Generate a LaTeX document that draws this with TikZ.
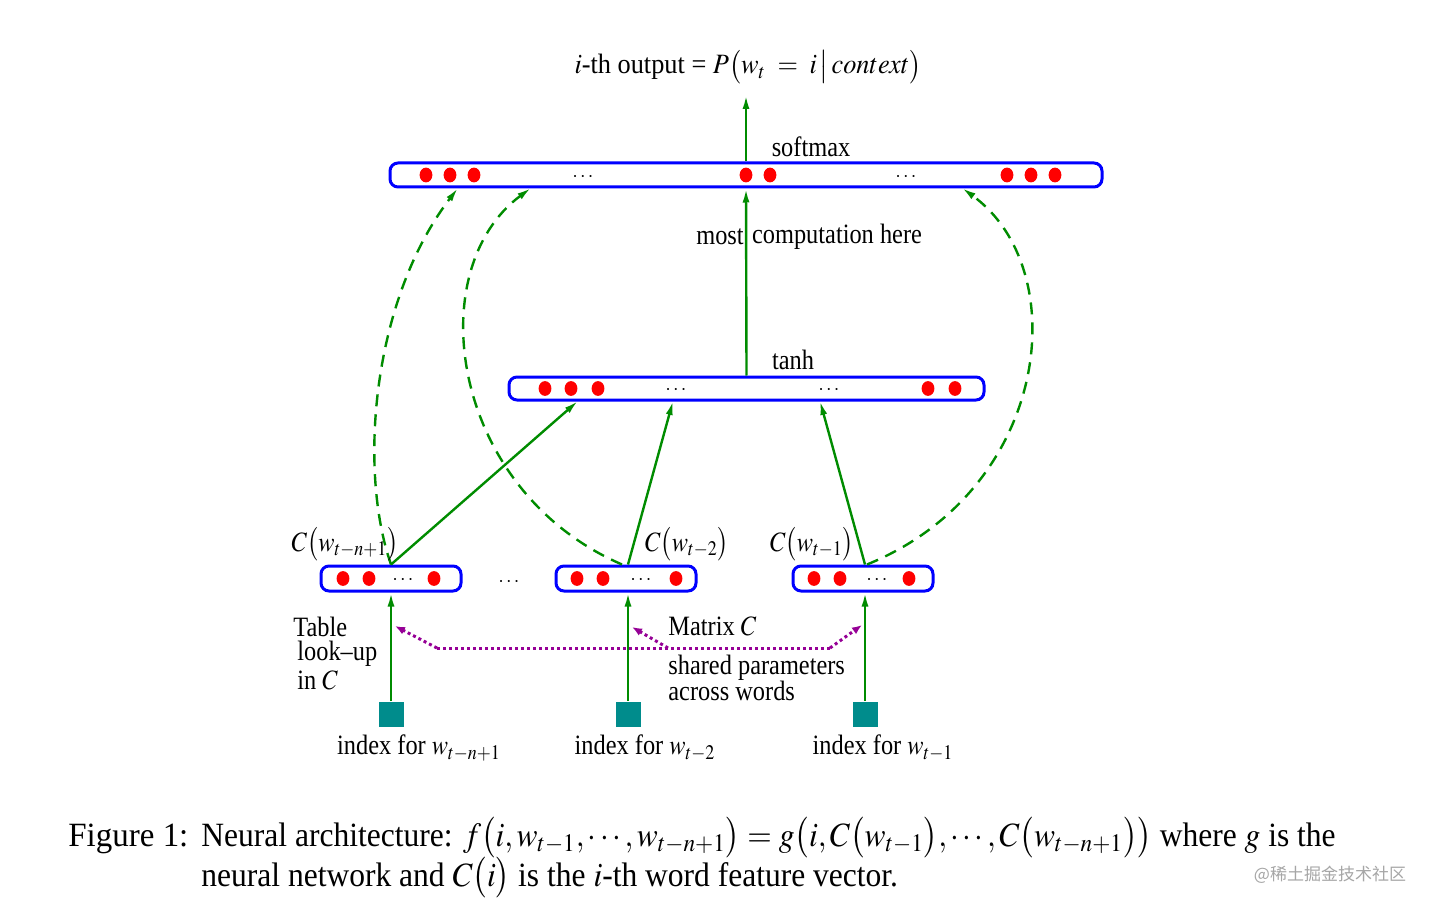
\documentclass[tikz,border=0pt]{standalone}
\usepackage{mathptmx}
\usepackage{fontspec}
\setmainfont{Liberation Serif}
\newfontfamily\cjkfont{Noto Sans CJK SC}
\usetikzlibrary{arrows.meta,calc}
\definecolor{dgreen}{RGB}{0,140,0}
\definecolor{sqteal}{RGB}{0,140,140}
\definecolor{dpurple}{RGB}{150,0,150}
\newcommand{\nx}[1]{\scalebox{0.87}[1]{#1}}
\newcommand{\cx}[1]{\scalebox{0.927}[1]{#1}}
\tikzset{
  bar/.style={draw=blue, line width=1.5pt, rounded corners=4pt, inner sep=0pt, fill=white},
  garrow/.style={draw=dgreen, line width=1.2pt, -{Latex[length=7pt,width=3.5pt]}},
  gdash/.style={garrow, dash pattern=on 6pt off 4pt},
  parrow/.style={draw=dpurple, line width=1.5pt, dash pattern=on 1.5pt off 1.5pt, -{Latex[length=5pt,width=4pt]}},
  pline/.style={draw=dpurple, line width=1.5pt, dash pattern=on 1.5pt off 1.5pt},
  lbl/.style={font=\fontsize{14}{16}\selectfont, inner sep=0pt},
  llbl/.style={lbl, anchor=west},
  dots/.style={font=\fontsize{10}{12}\selectfont, inner sep=0pt},
  sqbox/.style={fill=sqteal, minimum size=12.5pt, inner sep=0pt},
  captxt/.style={font=\fontsize{17}{20}\selectfont, inner sep=0pt, anchor=base west},
}
\newcommand{\rdot}[2]{\fill[red] (#1,#2) ellipse [x radius=3.2pt, y radius=3.7pt];}
\begin{document}
\begin{tikzpicture}[x=0.5pt,y=-0.5pt]
\useasboundingbox (0,0) rectangle (1434,909);
\fill[white] (0,0) rectangle (1434,909);

% bars
\node[bar, minimum width=356pt, minimum height=12pt] (soft) at (746,175) {};
\node[bar, minimum width=237.5pt, minimum height=11.5pt] (tanh) at (746.5,388.5) {};
\node[bar, minimum width=70pt, minimum height=12.5pt] (b1) at (391,578.5) {};
\node[bar, minimum width=70pt, minimum height=12.5pt] (b2) at (626,578.5) {};
\node[bar, minimum width=70pt, minimum height=12.5pt] (b3) at (863,578.5) {};

% dots
\foreach \x in {426,450,474,746,770,1007,1031,1055} {\rdot{\x}{175}}
\foreach \x in {545,571,598,928,955} {\rdot{\x}{388.5}}
\foreach \x in {343,369,434,577,603,676,814,840,909} {\rdot{\x}{578.5}}
\node[dots] (sd1) at (583,177) {$\cdots$};
\node[dots] (sd2) at (906,177) {$\cdots$};
\node[dots] (td1) at (676,390.5) {$\cdots$};
\node[dots] (td2) at (829,390.5) {$\cdots$};
\node[dots] (bd1) at (403,580.5) {$\cdots$};
\node[dots] (bd2) at (641,580.5) {$\cdots$};
\node[dots] (bd3) at (877,580.5) {$\cdots$};
\node[dots] (mid) at (509,582) {$\cdots$};

% squares
\node[sqbox] (s1) at (391,714) {};
\node[sqbox] (s2) at (628,714) {};
\node[sqbox] (s3) at (865,714) {};

% coordinates
\coordinate (out) at (746,95);
\coordinate (t1) at (578,401);
\coordinate (t2) at (673,401);
\coordinate (t3) at (820,401);
\coordinate (a1) at (458,188);
\coordinate (a2) at (531,188);
\coordinate (a3) at (962,188);
\coordinate (p1) at (437,648);
\coordinate (p2) at (668,648);
\coordinate (p3) at (830,648);
\coordinate (q1) at (395,626);
\coordinate (q2) at (632,627);
\coordinate (q3) at (862,625);

% arrows
\draw[garrow] (soft.north) -- (out);
\draw[garrow] (tanh.north) -- (soft.south);
\draw[garrow] (b1.north) -- (t1);
\draw[garrow] (s2 |- b2.north) -- (t2);
\draw[garrow] (s3 |- b3.north) -- (t3);
\draw[garrow] (s1.north) -- (b1.south);
\draw[garrow] (s2.north) -- (s2 |- b2.south);
\draw[garrow] (s3.north) -- (s3 |- b3.south);

\draw[gdash] (b1.north) .. controls (358,470) and (372,300) .. (a1);
\draw[gdash] ([xshift=-2pt]b2.north) .. controls (450,490) and (420,270) .. (a2);
\draw[gdash] ([xshift=2pt]b3.north) .. controls (1050,490) and (1075,270) .. (a3);

\draw[pline] (p1) -- (p3);
\draw[parrow] (p1) -- (q1);
\draw[parrow] (p2) -- (q2);
\draw[parrow] (p3) -- (q3);

% labels
\node[lbl] (toplbl) at (748,67) {\scalebox{0.94}[1]{$i$-th output = $P\bigl(w_t\;=\;i\,\big|\,context\bigr)$}};
\node[lbl] (lsoft) at (811,147) {\nx{softmax}};
\node[lbl] (lmost) at (720,237) {\nx{most}};
\node[lbl] (lcomp) at (837,237) {\nx{computation here}};
\node[lbl] (ltanh) at (793,360) {\nx{tanh}};
\node[lbl] (c1) at (345,544) {\nx{$C\bigl(w_{t-n+1}\bigr)$}};
\node[lbl] (c2) at (687,544) {\nx{$C\bigl(w_{t-2}\bigr)$}};
\node[lbl] (c3) at (812,544) {\nx{$C\bigl(w_{t-1}\bigr)$}};
\node[llbl] (tab1) at (293,627) {\nx{Table}};
\node[llbl] (tab2) at (297,654) {\nx{look--up}};
\node[llbl] (tab3) at (297,680) {\nx{in $C$}};
\node[llbl] (mat) at (668,626) {\nx{Matrix $C$}};
\node[llbl] (sh1) at (668,668) {\nx{shared parameters}};
\node[llbl] (sh2) at (668,691) {\nx{across words}};
\node[lbl] (i1) at (419,748) {\nx{index for $w_{t-n+1}$}};
\node[lbl] (i2) at (645,748) {\nx{index for $w_{t-2}$}};
\node[lbl] (i3) at (883,748) {\nx{index for $w_{t-1}$}};

% caption
\node[captxt] (fig) at (68,846) {\scalebox{0.97}[1]{Figure 1:}};
\node[captxt] (cap1) at (201,846) {\cx{Neural architecture: $f\bigl(i,w_{t-1},\cdots,w_{t-n+1}\bigr)=g\bigl(i,C\bigl(w_{t-1}\bigr),\cdots,C\bigl(w_{t-n+1}\bigr)\bigr)$ where $g$ is the}};
\node[captxt] (cap2) at (201,886) {\cx{neural network and $C\bigl(i\bigr)$ is the $i$-th word feature vector.}};
\node[font=\cjkfont\fontsize{8.5}{10}\selectfont, text=black!35, inner sep=0pt] (wm) at (1330,875) {@稀土掘金技术社区};
\end{tikzpicture}
\end{document}
